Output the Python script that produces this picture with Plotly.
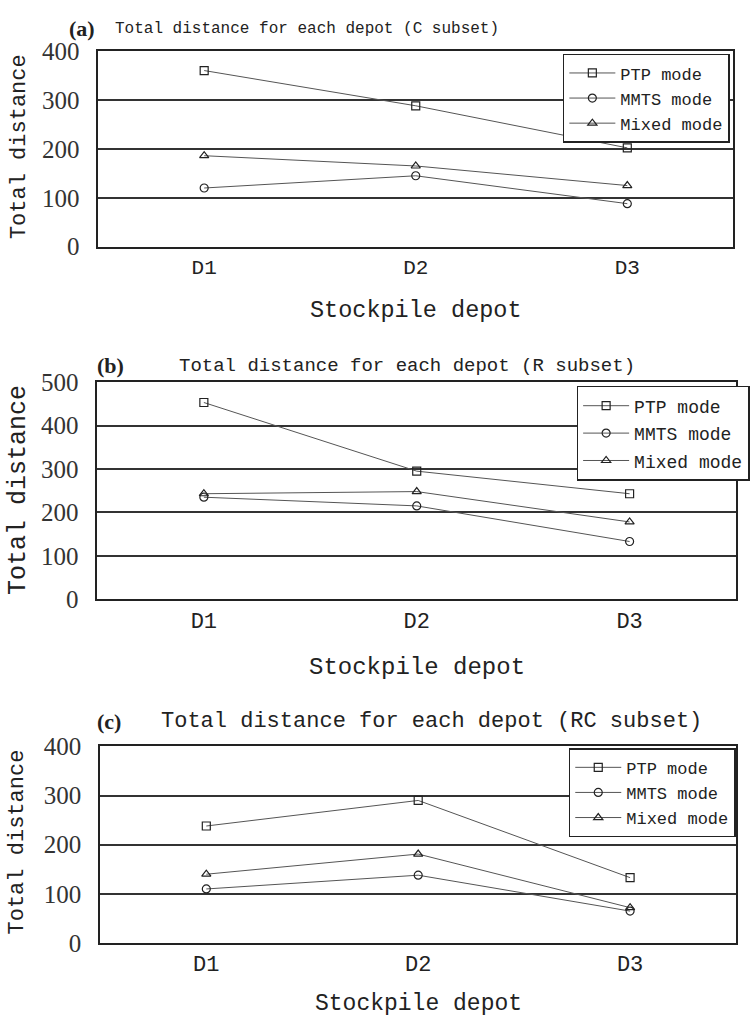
import plotly.graph_objects as go

depots = ["D1", "D2", "D3"]
series_names = ["PTP mode", "MMTS mode", "Mixed mode"]

# Panel (a) C subset
c_ptp = [360, 288, 202]
c_mmts = [120, 145, 88]
c_mixed = [186, 165, 125]
# Panel (b) R subset
r_ptp = [453, 295, 243]
r_mmts = [235, 215, 133]
r_mixed = [243, 248, 178]
# Panel (c) RC subset
rc_ptp = [238, 290, 133]
rc_mmts = [110, 138, 65]
rc_mixed = [140, 181, 72]

panel_titles = ["Total distance for each depot (C subset)",
                "Total distance for each depot (R subset)",
                "Total distance for each depot (RC subset)"]
panel_labels = ["(a)", "(b)", "(c)"]
y_max = [400, 500, 400]

W, H = 750, 1034
def py(p):
    return 1 - p / H
def px(p):
    return p / W

MONO = "Liberation Mono"
SERIF = "Liberation Serif"

# pixel geometry per panel: (left, right, top, bottom)
geo = [(100, 745, 39, 240), (99, 748, 379, 602), (102, 748, 753, 955)]
title_geo = [  # label x, title x, y, title font size
    (68, 115, 16, 16), (97, 180, 362, 19), (97, 162, 728, 22)]
ytitle_geo = [(20, 137, 22), (18, 490, 25), (18, 851, 22)]
xtick_font = [21, 22, 22]
xtitle_geo = [(305, 23.5), (672, 24), (1018, 23)]
# legend: left px, top px, font size, group gap
legend_geo = [(572, 42, 17, 0), (586, 383, 18, 1), (578, 755, 17, 0)]

data_sets = [
    (c_ptp, c_mmts, c_mixed),
    (r_ptp, r_mmts, r_mixed),
    (rc_ptp, rc_mmts, rc_mixed),
]
symbols = ["square-open", "circle-open", "triangle-up-open"]

fig = go.Figure()
annotations = []
for i, ds in enumerate(data_sets):
    xa = "x" if i == 0 else f"x{i+1}"
    ya = "y" if i == 0 else f"y{i+1}"
    lg = "legend" if i == 0 else f"legend{i+1}"
    for j, vals in enumerate(ds):
        fig.add_trace(go.Scatter(
            x=depots, y=vals, name=series_names[j], mode="lines+markers",
            xaxis=xa, yaxis=ya, legend=lg, legendgroup=f"g{i}{j}",
            line=dict(color="#555555", width=1),
            marker=dict(symbol=symbols[j], size=8, color="#222222",
                        line=dict(width=1.2, color="#222222")),
        ))
    l, r, t, b = geo[i]
    axkey = "" if i == 0 else str(i + 1)
    fig.update_layout(**{
        f"xaxis{axkey}": dict(
            domain=[px(l), px(r)], anchor=ya, type="category",
            range=[-0.5, 2.5], showgrid=False, showline=True, mirror=True,
            linecolor="#222222", linewidth=2, ticks="",
            tickfont=dict(family=MONO, size=xtick_font[i], color="#222222"),
            fixedrange=True),
        f"yaxis{axkey}": dict(
            domain=[py(b), py(t)], anchor=xa, range=[0, y_max[i]],
            dtick=100, showgrid=True, gridcolor="#333333", gridwidth=2,
            showline=True, mirror=True, linecolor="#222222", linewidth=2,
            ticks="", ticklabelstandoff=12, zeroline=False,
            tickfont=dict(family=SERIF, size=25, color="#333333"),
            fixedrange=True),
        lg: dict(
            x=px(legend_geo[i][0]), y=py(legend_geo[i][1]),
            xanchor="left", yanchor="top",
            bgcolor="white", bordercolor="#222222", borderwidth=1.5,
            font=dict(family=MONO, size=legend_geo[i][2], color="#222222"),
            tracegroupgap=legend_geo[i][3], traceorder="grouped",
            itemwidth=46),
    })
    lx, tx, ty, tfs = title_geo[i]
    annotations.append(dict(
        text="<b>" + panel_labels[i] + "</b>", x=px(lx), y=py(ty),
        xref="paper", yref="paper", xanchor="left", yanchor="middle",
        showarrow=False, font=dict(family=SERIF, size=22, color="#222222")))
    annotations.append(dict(
        text=panel_titles[i], x=px(tx), y=py(ty),
        xref="paper", yref="paper", xanchor="left", yanchor="middle",
        showarrow=False, font=dict(family=MONO, size=tfs, color="#222222")))
    yx, yy, yfs = ytitle_geo[i]
    annotations.append(dict(
        text="Total distance", x=px(yx), y=py(yy), textangle=-90,
        xref="paper", yref="paper", xanchor="center", yanchor="middle",
        showarrow=False, font=dict(family=MONO, size=yfs, color="#222222")))
    xty, xtfs = xtitle_geo[i]
    annotations.append(dict(
        text="Stockpile depot", x=px((l + r) / 2), y=py(xty),
        xref="paper", yref="paper", xanchor="center", yanchor="middle",
        showarrow=False, font=dict(family=MONO, size=xtfs, color="#222222")))

fig.update_layout(
    width=W, height=H, margin=dict(l=0, r=0, t=0, b=0),
    paper_bgcolor="white", plot_bgcolor="white",
    showlegend=True, annotations=annotations,
)

fig.write_html("out.html")
